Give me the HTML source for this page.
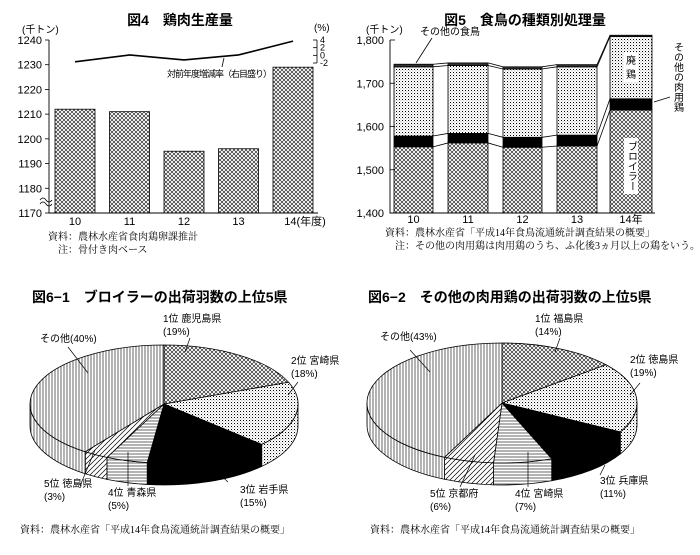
<!DOCTYPE html>
<html><head><meta charset="utf-8">
<style>
body{margin:0;background:#fff;}
svg{display:block;font-family:"Liberation Sans","Noto Sans CJK JP",sans-serif;}
.t{font-weight:bold;font-size:14px;}
.s{font-family:"Liberation Serif","Noto Serif CJK SC",serif;font-size:10px;}
.l{font-size:10px;}
</style></head><body>
<svg id="c" width="700" height="555" viewBox="0 0 700 555" xmlns="http://www.w3.org/2000/svg">
<defs>
<pattern id="xh" width="4" height="4" patternUnits="userSpaceOnUse"><rect width="4" height="4" fill="#fff"/><path d="M0,0L4,4M4,0L0,4" stroke="#000" stroke-width="0.55"/></pattern>
<pattern id="dt" width="3" height="3" patternUnits="userSpaceOnUse"><rect width="3" height="3" fill="#fff"/><rect width="1" height="1" fill="#000"/><rect x="1.5" y="1.5" width="0.8" height="0.8" fill="#666"/></pattern>
<pattern id="vl" width="3" height="3" patternUnits="userSpaceOnUse"><rect width="3" height="3" fill="#fff"/><path d="M1,0V3" stroke="#000" stroke-width="0.6"/></pattern>
<pattern id="hl" width="3" height="3" patternUnits="userSpaceOnUse"><rect width="3" height="3" fill="#fff"/><path d="M0,1H3" stroke="#000" stroke-width="0.6"/></pattern>
<pattern id="dg" width="5" height="5" patternUnits="userSpaceOnUse"><rect width="5" height="5" fill="#fff"/><path d="M0,5L5,0M-1,1L1,-1M4,6L6,4" stroke="#000" stroke-width="0.7"/></pattern>
</defs>

<!-- Chart 4 -->
<text class="t" x="180" y="25" text-anchor="middle">図4　鶏肉生産量</text>
<text class="l" x="22" y="33">(千トン)</text>
<text class="l" x="314" y="31">(%)</text>
<g id="g4"></g>
<text x="167" y="77" font-size="9" textLength="105">対前年度増減率（右目盛り）</text>
<line x1="224" y1="58" x2="222" y2="67" stroke="#000" stroke-width="0.8"/>
<text class="s" x="48" y="240">資料：農林水産省食肉鶏卵課推計</text>
<text class="s" x="58" y="253">注：骨付き肉ベース</text>

<!-- Chart 5 -->
<text class="t" x="525" y="25" text-anchor="middle">図5　食鳥の種類別処理量</text>
<text class="l" x="366" y="33">(千トン)</text>
<g id="g5"></g>
<text class="l" x="420" y="35">その他の食鳥</text>
<line x1="432" y1="38" x2="416" y2="63" stroke="#000" stroke-width="0.8"/>
<rect x="624" y="52" width="14" height="30" fill="#fff"/>
<text class="l" x="631" y="64" text-anchor="middle">廃</text>
<text class="l" x="631" y="78" text-anchor="middle">鶏</text>
<text class="l" style="writing-mode:vertical-rl" x="677" y="42">その他の肉用鶏</text>
<line x1="670" y1="97" x2="654" y2="102" stroke="#000" stroke-width="0.8"/>
<rect x="624" y="138" width="14" height="56" fill="#fff"/>
<text class="l" style="writing-mode:vertical-rl" x="631" y="141">ブロイラー</text>
<text class="s" x="385" y="236">資料：農林水産省「平成14年食鳥流通統計調査結果の概要」</text>
<text class="s" x="395" y="249">注：その他の肉用鶏は肉用鶏のうち、ふ化後3ヵ月以上の鶏をいう。</text>

<!-- Pie 1 -->
<text class="t" x="32" y="302">図6−1　ブロイラーの出荷羽数の上位5県</text>
<g id="p1"></g>
<text class="s" x="20" y="533">資料：農林水産省「平成14年食鳥流通統計調査結果の概要」</text>

<!-- Pie 2 -->
<text class="t" x="368" y="302">図6−2　その他の肉用鶏の出荷羽数の上位5県</text>
<g id="p2"></g>
<text class="s" x="370" y="533">資料：農林水産省「平成14年食鳥流通統計調査結果の概要」</text>
</svg>
<script>
const NS="http://www.w3.org/2000/svg";
// ---- Fig 4 data ----
const years4=["10","11","12","13","14(年度)"];
const prod4=[1212,1211,1195,1196,1229];
const rate4=[-1.7,0.1,-1.2,0.1,3.7];
const yTicks4=[1170,1180,1190,1200,1210,1220,1230,1240];
const rTicks4=[4,2,0,-2];
// ---- Fig 5 data ----
const years5=["10","11","12","13","14年"];
const broiler5=[1553,1562,1552,1555,1638];
const otherMeat5=[25,22,23,25,26];
const spentHen5=[160,157,158,158,144];
const otherPoultry5=[6,6,5,5,3];
const yTicks5=[1400,1500,1600,1700,1800];
const yLabels5=["1,400","1,500","1,600","1,700","1,800"];
// ---- Pie data ----
const pie1Names=["1位 鹿児島県","2位 宮崎県","3位 岩手県","4位 青森県","5位 徳島県","その他"];
const pie1Vals=[19,18,15,5,3,40];
const pie2Names=["1位 福島県","2位 徳島県","3位 兵庫県","4位 宮崎県","5位 京都府","その他"];
const pie2Vals=[14,19,11,7,6,43];

function mk(tag,attrs,parent,txt){const e=document.createElementNS(NS,tag);for(const k in attrs)e.setAttribute(k,attrs[k]);if(txt!==undefined)e.textContent=txt;parent.appendChild(e);return e;}

// Fig 4
(function(){
 const g=document.getElementById('g4');
 const y=v=>40+(1240-v)*173/70;
 const ry=v=>40+(4-v)*23/6;
 const x0=55,step=54.5,bw=40;
 for(let i=0;i<prod4.length;i++){
  const r=mk('rect',{x:x0+i*step,y:y(prod4[i]),width:bw,height:213-y(prod4[i]),fill:'url(#xh)',stroke:'#000','stroke-width':0.8},g);
  
  
  const t=mk('text',{x:x0+i*step+bw/2+(i==4?12:0),y:225,'text-anchor':'middle','font-size':11},g,years4[i]);
  
  
 }
 yTicks4.forEach(v=>{
  const t=mk('text',{x:42,y:y(v)+4,'text-anchor':'end','font-size':11},g,String(v));
  
  
  mk('line',{x1:45,x2:49,y1:y(v),y2:y(v),stroke:'#000','stroke-width':0.8},g);
 });
 const ax=mk('path',{d:'M49,40V213H318',fill:'none',stroke:'#000','stroke-width':0.9},g);
 
 
 mk('path',{d:'M40,200q3,-4 6,0t6,0M40,204q3,-4 6,0t6,0',fill:'none',stroke:'#000','stroke-width':0.8},g);
 mk('path',{d:'M317,'+ry(4)+'V'+ry(-2),fill:'none',stroke:'#000','stroke-width':0.8},g);
 rTicks4.forEach(v=>{
  mk('line',{x1:313,x2:317,y1:ry(v),y2:ry(v),stroke:'#000','stroke-width':0.8},g);
  const t=mk('text',{x:320,y:ry(v)+3,'font-size':9},g,String(v));
  
  
 });
 const pts=rate4.map((v,i)=>(x0+i*step+bw/2)+','+ry(v)).join(' ');
 const pl=mk('polyline',{points:pts,fill:'none',stroke:'#000','stroke-width':1.6},g);
 
 
})();

// Fig 5
(function(){
 const g=document.getElementById('g5');
 const y=v=>40+(1800-v)*173/400;
 const xs=[394,448,503,557,610],bw=[39,40,39,40,42];
 const tops=[[],[],[],[]];
 for(let i=0;i<broiler5.length;i++){
  let b=1400;
  const segs=[[broiler5[i]-1400,'url(#xh)','broiler'],[otherMeat5[i],'#000','other-meat'],[spentHen5[i],'url(#dt)','spent-hen'],[otherPoultry5[i],'#333','other-poultry']];
  segs.forEach((s,k)=>{
   const top=b+s[0];
   const r=mk('rect',{x:xs[i],y:y(top),width:bw[i],height:y(b)-y(top),fill:s[1],stroke:'#000','stroke-width':0.8},g);
   
   
   tops[k].push(top);b=top;
  });
  const t=mk('text',{x:xs[i]+bw[i]/2,y:223,'text-anchor':'middle','font-size':11},g,years5[i]);
  
  
 }
 tops.forEach(arr=>{for(let i=0;i<arr.length-1;i++){mk('line',{x1:xs[i]+bw[i],y1:y(arr[i]),x2:xs[i+1],y2:y(arr[i+1]),stroke:'#000','stroke-width':0.8},g);}});
 yTicks5.forEach((v,i)=>{
  const t=mk('text',{x:384,y:y(v)+4,'text-anchor':'end','font-size':11},g,yLabels5[i]);
  
  
  mk('line',{x1:390,x2:395,y1:y(v),y2:y(v),stroke:'#000','stroke-width':0.8},g);
 });
 const ax=mk('path',{d:'M390,40V213H655',fill:'none',stroke:'#000','stroke-width':0.9},g);
 
 
})();

// Pies
const fills=['url(#xh)','url(#dt)','#000','url(#hl)','url(#dg)','url(#vl)'];
function pie(id,names,vals,cx,cy,rx,ry,dep,labels){
 const g=document.getElementById(id);
 const tot=vals.reduce((a,b)=>a+b,0);
 const P=(a,d)=>[cx+rx*Math.sin(a),cy-ry*Math.cos(a)+(d||0)];
 let a=0;const ang=[];
 vals.forEach(v=>{const a1=a+v/tot*2*Math.PI;ang.push([a,a1]);a=a1;});
 ang.forEach((r,i)=>{
  const s0=Math.max(r[0],Math.PI/2),s1=Math.min(r[1],3*Math.PI/2);
  if(s1>s0){
   const p0=P(s0),p1=P(s1),q1=P(s1,dep),q0=P(s0,dep);
   const p=mk('path',{d:`M${p0}A${rx},${ry} 0 0 1 ${p1}L${q1}A${rx},${ry} 0 0 0 ${q0}Z`,fill:fills[i],stroke:'#000','stroke-width':0.8},g);
   
   
  }
 });
 ang.forEach((r,i)=>{
  const p0=P(r[0]),p1=P(r[1]);const lg=(r[1]-r[0])>Math.PI?1:0;
  const p=mk('path',{d:`M${cx},${cy}L${p0}A${rx},${ry} 0 ${lg} 1 ${p1}Z`,fill:fills[i],stroke:'#000','stroke-width':0.8},g);
  
  
  const L=labels[i];
  const t1=mk('text',{x:L[0],y:L[1],'font-size':10},g,i==5?names[i]+'('+vals[i]+'%)':names[i]);
  
  
  if(i<5){const t2=mk('text',{x:L[0],y:L[1]+13,'font-size':10},g,'('+vals[i]+'%)');
  
  }
  mk('line',{x1:L[2],y1:L[3],x2:L[4],y2:L[5],stroke:'#000','stroke-width':0.7},g);
 });
}
pie('p1',pie1Names,pie1Vals,164,404,134,59,22,[
 [163,322,190,338,185,352],[291,364,298,382,288,395],[240,493,228,482,215,470],[108,496,128,486,128,452],[44,487,80,486,95,450],[40,342,68,347,88,373]]);
pie('p2',pie2Names,pie2Vals,502,403,135,60,22,[
 [535,322,560,338,555,352],[630,363,640,383,630,395],[600,484,600,475,605,465],[515,497,528,487,528,452],[430,497,460,487,475,455],[380,340,410,350,430,372]]);
</script>
</body></html>
